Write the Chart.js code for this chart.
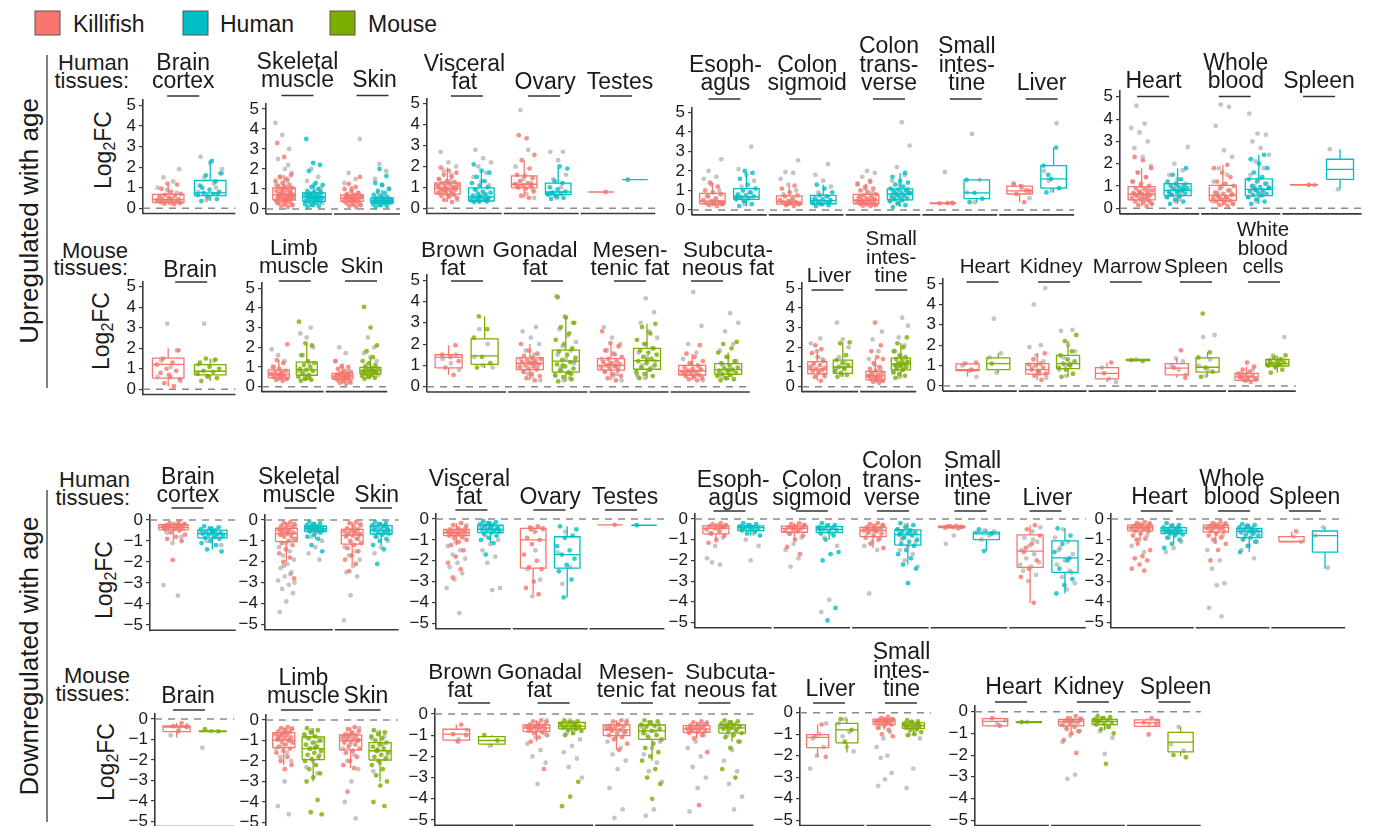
<!DOCTYPE html>
<html>
<head>
<meta charset="utf-8">
<script src="https://cdn.jsdelivr.net/npm/chart.js@4.4.1/dist/chart.umd.min.js"></script>
<style>
  html,body{margin:0;padding:0;background:#fff;}
  #wrap{position:relative;width:1377px;height:826px;overflow:hidden;background:#fff;}
  canvas{position:absolute;}
  svg text{font-family:"Liberation Sans",Arial,sans-serif;fill:#1a1a1a;}
</style>
</head>
<body>
<div id="wrap">
<svg id="ov" width="1377" height="826" style="position:absolute;left:0;top:0">
  <rect x="35" y="11" width="25" height="24" fill="#F8766D" stroke="#555" stroke-width="1"/>
  <text x="73" y="32" font-size="23">Killifish</text>
  <rect x="183" y="11" width="25" height="24" fill="#00BFC4" stroke="#555" stroke-width="1"/>
  <text x="220" y="32" font-size="23">Human</text>
  <rect x="330" y="11" width="25" height="24" fill="#7CAE00" stroke="#555" stroke-width="1"/>
  <text x="368" y="32" font-size="23">Mouse</text>

  <line x1="47" y1="55" x2="47" y2="388" stroke="#555" stroke-width="1.5"/>
  <line x1="47" y1="490" x2="47" y2="822" stroke="#555" stroke-width="1.5"/>
  <text transform="translate(29,221) rotate(-90)" text-anchor="middle" dominant-baseline="central" font-size="26">Upregulated with age</text>
  <text transform="translate(29,656) rotate(-90)" text-anchor="middle" dominant-baseline="central" font-size="26">Downregulated with age</text>

  <text transform="translate(103,150) rotate(-90)" text-anchor="middle" dominant-baseline="central" font-size="23">Log<tspan dy="6" font-size="16">2</tspan><tspan dy="-6">FC</tspan></text>
  <text transform="translate(101,331) rotate(-90)" text-anchor="middle" dominant-baseline="central" font-size="23">Log<tspan dy="6" font-size="16">2</tspan><tspan dy="-6">FC</tspan></text>
  <text transform="translate(104,580) rotate(-90)" text-anchor="middle" dominant-baseline="central" font-size="23">Log<tspan dy="6" font-size="16">2</tspan><tspan dy="-6">FC</tspan></text>
  <text transform="translate(106,762) rotate(-90)" text-anchor="middle" dominant-baseline="central" font-size="23">Log<tspan dy="6" font-size="16">2</tspan><tspan dy="-6">FC</tspan></text>

  <text x="129" y="70" font-size="22" text-anchor="end">Human</text>
  <text x="129" y="88" font-size="22" text-anchor="end">tissues:</text>
  <text x="128" y="258" font-size="22" text-anchor="end">Mouse</text>
  <text x="128" y="275" font-size="22" text-anchor="end">tissues:</text>
  <text x="130" y="487" font-size="22" text-anchor="end">Human</text>
  <text x="130" y="505" font-size="22" text-anchor="end">tissues:</text>
  <text x="130" y="683" font-size="22" text-anchor="end">Mouse</text>
  <text x="130" y="701" font-size="22" text-anchor="end">tissues:</text>
</svg>
</div>
<script>
// ---------------- DATA ----------------
const upTicks = [0, 1, 2, 3, 4, 5];
const downTicks = [-5, -4, -3, -2, -1, 0];

const humanTissues = [["Brain","cortex"],["Skeletal","muscle"],["Skin"],["Visceral","fat"],["Ovary"],["Testes"],
  ["Esoph-","agus"],["Colon","sigmoid"],["Colon","trans-","verse"],["Small","intes-","tine"],["Liver"],
  ["Heart"],["Whole","blood"],["Spleen"]];
const humanGroupSizes = [1, 2, 3, 5, 3];

const upMouseTissues = [["Brain"],["Limb","muscle"],["Skin"],["Brown","fat"],["Gonadal","fat"],["Mesen-","tenic fat"],
  ["Subcuta-","neous fat"],["Liver"],["Small","intes-","tine"],["Heart"],["Kidney"],["Marrow"],["Spleen"],["White","blood","cells"]];
const upMouseGroupSizes = [1, 2, 4, 2, 5];

const downMouseTissues = [["Brain"],["Limb","muscle"],["Skin"],["Brown","fat"],["Gonadal","fat"],["Mesen-","tenic fat"],
  ["Subcuta-","neous fat"],["Liver"],["Small","intes-","tine"],["Heart"],["Kidney"],["Spleen"]];
const downMouseGroupSizes = [1, 2, 4, 2, 3];

// box stats: [lower whisker, Q1, median, Q3, upper whisker]
const upHumanKilliBox = [[0.2,0.28,0.42,0.68,1.15],[0.1,0.45,0.72,1.05,1.7],[0.1,0.38,0.55,0.7,1.15],[0.3,0.68,0.95,1.22,1.95],
  [0.5,0.98,1.15,1.55,2.3],[0.78,0.78,0.78,0.78,0.78],[0.2,0.32,0.45,0.85,1.4],[0.2,0.3,0.42,0.72,1.25],[0.2,0.32,0.5,0.8,1.35],
  [0.33,0.33,0.35,0.37,0.37],[0.4,0.82,0.98,1.22,1.35],[0.1,0.38,0.63,0.97,1.8],[0.1,0.35,0.58,1.03,1.95],[1.04,1.04,1.05,1.06,1.06]];
const upHumanHumanBox = [[0.35,0.62,0.75,1.35,2.35],[0.1,0.38,0.6,0.8,1.3],[0.1,0.3,0.42,0.55,0.95],[0.3,0.35,0.55,0.98,1.8],
  [0.45,0.65,0.78,1.2,1.95],[1.37,1.37,1.37,1.37,1.37],[0.2,0.55,0.68,1.1,1.95],[0.2,0.32,0.48,0.75,1.3],[0.15,0.52,0.82,1.08,1.9],
  [0.4,0.58,0.88,1.55,1.55],[0.9,1.12,1.6,2.28,3.2],[0.2,0.57,0.8,1.1,1.8],[0.2,0.57,0.85,1.32,2.4],[0.85,1.3,1.75,2.2,2.65]];
const upHumanKilliPts = [
  "0.2 0.22 0.25 0.27 0.3 0.32 0.35 0.38 0.4 0.42 0.45 0.5 0.55 0.6 0.65 0.7 0.8 0.95 1.15 1.2",
  "0.1 0.15 0.2 0.25 0.3 0.35 0.4 0.42 0.45 0.5 0.52 0.55 0.6 0.62 0.65 0.7 0.72 0.75 0.8 0.85 0.9 0.95 1.0 1.05 1.1 1.15 1.2 1.3 1.4 1.5 1.6 1.7 2.6 3.3 0.68 0.78 0.58 0.48",
  "0.1 0.15 0.2 0.25 0.3 0.35 0.38 0.4 0.45 0.5 0.52 0.55 0.58 0.6 0.62 0.65 0.7 0.75 0.8 0.9 1.0 1.1 1.25 1.6 0.48 0.56",
  "0.3 0.4 0.5 0.55 0.6 0.65 0.7 0.75 0.8 0.85 0.9 0.92 0.95 1.0 1.05 1.1 1.15 1.2 1.25 1.3 1.4 1.5 1.6 1.7 1.8 1.95 0.98 0.88 1.08",
  "0.5 0.6 0.8 0.95 1.0 1.05 1.1 1.15 1.2 1.3 1.45 1.55 1.6 1.9 2.3 2.55 3.35 3.5 1.12",
  "0.78",
  "0.2 0.25 0.3 0.32 0.35 0.4 0.45 0.5 0.6 0.7 0.8 0.9 1.0 1.2 1.4 0.38",
  "0.2 0.25 0.3 0.35 0.4 0.42 0.45 0.5 0.6 0.7 0.75 0.9 1.1 1.25 0.32",
  "0.2 0.22 0.25 0.3 0.32 0.35 0.4 0.45 0.48 0.5 0.55 0.6 0.65 0.7 0.75 0.8 0.9 1.0 1.1 1.2 1.35 1.45 0.42 0.52",
  "0.35 0.34 0.36",
  "0.4 0.82 0.98 1.22 1.35 1.0",
  "0.1 0.15 0.2 0.25 0.3 0.35 0.4 0.45 0.5 0.55 0.6 0.63 0.65 0.7 0.75 0.8 0.85 0.9 1.0 1.1 1.2 1.4 1.6 1.8 2.15 2.3 0.52 0.72",
  "0.1 0.15 0.2 0.25 0.3 0.35 0.4 0.45 0.5 0.55 0.6 0.65 0.7 0.8 0.9 1.0 1.1 1.2 1.4 1.6 1.8 1.95 0.48 0.62",
  "1.05"];
const upHumanHumanPts = [
  "0.35 0.45 0.6 0.65 0.7 0.75 0.8 0.9 1.1 1.3 1.6 1.7 2.3 1.0 0.7",
  "0.1 0.15 0.2 0.25 0.3 0.35 0.38 0.4 0.45 0.5 0.52 0.55 0.58 0.6 0.62 0.65 0.7 0.72 0.75 0.8 0.85 0.9 1.0 1.1 1.2 1.3 1.9 2.2 2.3 3.5 0.5 0.6",
  "0.1 0.15 0.2 0.25 0.3 0.32 0.35 0.38 0.4 0.42 0.45 0.48 0.5 0.55 0.6 0.65 0.7 0.8 0.9 1.0 1.2 1.3 1.65 2.0 0.4 0.35",
  "0.3 0.32 0.35 0.38 0.4 0.45 0.5 0.55 0.6 0.65 0.7 0.75 0.8 0.9 1.0 1.1 1.2 1.3 1.5 1.7 1.8 2.1 0.42 0.52",
  "0.45 0.5 0.6 0.65 0.7 0.75 0.8 0.9 1.0 1.2 1.3 1.9 2.0 0.72",
  "1.37",
  "0.2 0.3 0.45 0.55 0.6 0.65 0.7 0.75 0.8 0.9 1.0 1.1 1.3 1.6 1.9 2.0 0.68",
  "0.2 0.25 0.3 0.35 0.4 0.45 0.5 0.55 0.6 0.7 0.75 0.9 1.1 1.3 0.42",
  "0.15 0.25 0.35 0.45 0.5 0.55 0.6 0.65 0.7 0.75 0.8 0.85 0.9 0.95 1.0 1.05 1.1 1.2 1.3 1.4 1.5 1.7 1.9 0.78 0.88",
  "0.4 0.58 0.88 1.55",
  "0.9 1.12 1.6 2.28 3.2 1.8",
  "0.2 0.3 0.4 0.5 0.55 0.6 0.65 0.7 0.75 0.8 0.85 0.9 0.95 1.0 1.05 1.1 1.2 1.3 1.5 1.8 0.78 0.68 0.88",
  "0.2 0.3 0.4 0.5 0.57 0.6 0.65 0.7 0.75 0.8 0.85 0.9 0.95 1.0 1.1 1.2 1.3 1.4 1.6 1.8 2.0 2.2 2.4 0.82 0.92",
  ""];
const upHumanKilliGray = [
  "0.3 0.45 0.6 0.75 0.9 1.0 1.3 1.5 1.9 0.5 0.35",
  "0.2 0.4 0.6 0.8 1.0 1.2 1.4 1.6 1.8 2.0 2.5 3.0 3.7 4.3 0.5 0.7 0.9 1.1 0.3 2.2",
  "0.2 0.4 0.6 0.8 1.0 1.3 1.5 1.8 3.5 0.5 0.7",
  "0.4 0.6 0.8 1.0 1.2 1.4 1.6 1.8 2.0 2.2 2.7 0.7 0.9 1.1 1.3",
  "0.5 0.7 1.0 1.2 1.4 2.0 2.8 4.7 0.9",
  "",
  "0.3 0.5 0.7 1.0 1.3 1.6 1.7 2.0 2.6 0.4",
  "0.3 0.5 0.8 1.0 1.3 1.6 1.9 1.95 2.55 0.4",
  "0.3 0.5 0.7 0.9 1.1 1.3 1.5 1.7 1.9 2.0 0.4 0.6",
  "0.35 1.95",
  "0.6 1.1 1.3",
  "0.2 0.4 0.6 0.8 1.0 1.2 1.4 1.6 1.9 2.3 2.7 3.0 3.4 3.6 3.8 4.6 0.3 0.5 0.7 0.9",
  "0.2 0.4 0.6 0.8 1.0 1.2 1.5 1.8 2.3 2.6 3.7 4.55 4.65 0.3 0.5 0.7",
  "1.05"];
const upHumanHumanGray = [
  "0.5 0.8 1.2 1.5 1.7 2.2 2.5 1.0 0.4 1.9",
  "0.2 0.4 0.6 0.8 1.0 1.2 1.4 1.6 2.0 0.3 0.5 0.7 0.9",
  "0.2 0.4 0.6 0.8 1.0 1.2 1.5 1.9 2.25 0.3 0.5",
  "0.3 0.5 0.7 0.9 1.1 1.3 1.5 1.7 2.0 2.2 2.4 2.8 0.4 0.6",
  "0.5 0.7 1.0 1.4 1.6 2.3 2.7 2.7 0.6",
  "",
  "0.3 0.6 0.9 1.2 1.5 1.8 2.1 3.25 0.5",
  "0.3 0.5 0.7 0.9 1.2 1.5 1.8 2.35 0.4",
  "0.3 0.5 0.7 0.9 1.1 1.3 1.5 1.8 2.2 3.3 4.5 0.6 1.0",
  "0.4 0.9 1.55 3.9",
  "1.0 2.0 4.45 1.5",
  "0.3 0.5 0.7 0.9 1.1 1.3 1.5 1.7 2.0 2.75 0.4 0.6 0.8 1.0",
  "0.3 0.5 0.7 0.9 1.1 1.3 1.5 1.8 2.1 2.4 2.7 3.0 3.3 3.35 4.25 0.6 1.0",
  "0.85 2.65"];

const upMouseKilliBox = [[0.15,0.55,1.22,1.52,2.0],[0.3,0.45,0.62,0.85,1.35],[0.15,0.38,0.55,0.68,1.05],[0.55,0.88,1.38,1.5,1.95],
  [0.3,0.8,1.1,1.35,2.0],[0.3,0.78,1.0,1.32,2.05],[0.3,0.55,0.75,1.0,1.55],[0.3,0.65,0.88,1.27,1.9],[0.2,0.35,0.55,0.78,1.4],
  [0.45,0.75,0.8,1.08,1.15],[0.3,0.58,0.8,1.1,1.6],[0.2,0.35,0.62,0.9,1.15],[0.4,0.55,0.88,1.1,1.35],[0.2,0.28,0.45,0.62,0.95]];
const upMouseMouseBox = [[0.4,0.7,0.88,1.2,1.5],[0.3,0.58,0.85,1.25,2.2],[0.4,0.65,0.8,0.98,1.5],[0.88,1.05,1.45,2.25,3.3],
  [0.25,0.68,1.2,1.72,3.25],[0.4,0.82,1.22,1.8,2.95],[0.3,0.58,0.8,1.08,1.6],[0.5,0.68,1.0,1.35,2.25],[0.45,0.85,1.15,1.45,2.2],
  [0.65,0.8,1.1,1.38,1.6],[0.45,0.85,1.1,1.5,2.2],[1.22,1.24,1.27,1.3,1.32],[0.45,0.68,0.92,1.38,1.65],[0.65,0.98,1.1,1.3,1.5]];
const upMouseKilliPts = [
  "0.15 0.3 0.5 0.6 0.8 0.9 1.0 1.2 1.3 1.5 1.9 0.7",
  "0.3 0.35 0.4 0.45 0.5 0.55 0.6 0.65 0.7 0.75 0.8 0.9 1.0 1.2 1.35 2.15 0.58",
  "0.15 0.2 0.25 0.3 0.35 0.4 0.42 0.45 0.5 0.52 0.55 0.58 0.6 0.65 0.7 0.75 0.8 0.9 1.0 1.05 1.3 0.48",
  "0.55 0.9 1.2 1.4 1.5 1.95",
  "0.3 0.4 0.5 0.6 0.7 0.8 0.85 0.9 0.95 1.0 1.05 1.1 1.15 1.2 1.25 1.3 1.35 1.45 1.55 1.7 2.0 1.08",
  "0.3 0.4 0.5 0.6 0.7 0.78 0.85 0.9 0.95 1.0 1.05 1.1 1.15 1.2 1.3 1.4 1.55 1.7 1.9 2.05 2.6 0.98",
  "0.3 0.35 0.4 0.45 0.5 0.55 0.6 0.65 0.7 0.75 0.8 0.85 0.9 1.0 1.1 1.2 1.4 1.55 1.95 0.72",
  "0.3 0.5 0.6 0.7 0.8 0.85 0.9 1.0 1.1 1.2 1.3 1.5 1.7 1.9 2.1 0.95",
  "0.2 0.25 0.3 0.35 0.4 0.45 0.5 0.55 0.6 0.65 0.7 0.8 0.9 1.0 1.2 1.4 1.5 1.8 2.1 3.25 0.52",
  "0.8 1.1 1.15",
  "0.3 0.5 0.6 0.7 0.8 0.9 1.0 1.05 1.1 1.3 1.6 0.75",
  "1.15 0.62",
  "1.75 0.9 0.4",
  "0.2 0.3 0.35 0.4 0.45 0.5 0.55 0.6 0.7 0.8 0.95 1.15 0.42"];
const upMouseMousePts = [
  "0.4 0.55 0.65 0.75 0.85 0.9 1.0 1.1 1.3 1.45 1.5",
  "0.3 0.35 0.4 0.5 0.6 0.7 0.8 0.85 0.9 1.0 1.1 1.2 1.3 1.6 2.1 2.2 3.3 0.45",
  "0.4 0.45 0.5 0.55 0.6 0.65 0.7 0.75 0.8 0.82 0.85 0.9 0.95 1.0 1.1 1.2 1.3 1.5 1.8 2.1 3.0 4.05 0.78",
  "0.9 1.1 1.4 2.3 2.7 3.3",
  "0.25 0.35 0.45 0.55 0.65 0.75 0.85 0.95 1.05 1.15 1.25 1.35 1.5 1.65 1.8 2.0 2.2 2.5 2.8 3.0 3.25 4.2 0.6 1.0",
  "0.4 0.5 0.6 0.7 0.8 0.9 1.0 1.1 1.2 1.3 1.4 1.5 1.6 1.7 1.8 2.0 2.2 2.5 2.8 2.95 1.25",
  "0.3 0.35 0.4 0.5 0.55 0.6 0.65 0.7 0.75 0.8 0.85 0.9 1.0 1.1 1.2 1.4 1.6 1.8 2.0 2.1 0.78",
  "0.5 0.6 0.7 0.8 0.9 1.0 1.1 1.2 1.35 1.6 2.2 2.25 0.95",
  "0.45 0.55 0.65 0.75 0.85 0.9 1.0 1.05 1.1 1.15 1.2 1.25 1.3 1.4 1.5 1.6 1.8 2.0 2.2 2.5 1.12",
  "1.1",
  "0.45 0.6 0.8 0.9 1.0 1.1 1.2 1.3 1.5 1.7 2.2 2.5 1.05",
  "1.27 1.22",
  "0.45 0.7 0.9 1.4 1.65 3.55",
  "0.65 0.8 0.95 1.0 1.05 1.1 1.15 1.2 1.25 1.3 1.4 1.5 1.08"];
const upMouseKilliGray = [
  "0.4 1.1 1.4 1.9 3.2 0.6",
  "0.4 0.7 1.0 1.3 1.6 1.9 0.5",
  "0.2 0.4 0.6 0.8 1.0 1.3 1.7 2.0 0.5",
  "0.8 1.1 1.3 1.5",
  "0.3 0.5 0.7 0.9 1.1 1.3 1.5 1.7 2.0 2.3 2.6 2.8 0.6 1.0 1.2",
  "0.3 0.5 0.7 0.9 1.1 1.3 1.5 1.7 2.0 2.3 2.8 0.6 1.0",
  "0.3 0.5 0.7 0.9 1.1 1.3 1.6 2.0 2.85 4.45 0.6",
  "0.5 0.8 1.1 1.4 1.8 2.2 2.45",
  "0.3 0.5 0.7 0.9 1.1 1.4 1.8 2.4 2.8 0.4",
  "0.45 0.75 1.0",
  "0.4 0.6 0.9 1.2 1.5 1.9 2.0 4.0 4.8 0.7",
  "0.2 0.35 0.9",
  "0.55 0.8 1.0 1.2 1.35",
  "0.3 0.45 0.6 0.8 0.25"];
const upMouseMouseGray = [
  "0.6 1.2 1.4 3.2",
  "0.4 0.8 1.2 1.6 2.0 2.5 2.7 3.0 0.6",
  "0.5 0.7 0.9 1.1 1.3 1.5 1.7 2.0 2.5 0.6 0.8",
  "1.0 1.4 2.0 2.7 0.9",
  "0.3 0.5 0.7 0.9 1.1 1.3 1.5 1.7 1.9 2.1 2.4 2.7 3.0 3.3 4.25 0.4 0.8 1.2",
  "0.4 0.6 0.8 1.0 1.2 1.4 1.6 1.8 2.0 2.3 2.6 3.0 3.5 4.15 0.5 0.9",
  "0.4 0.6 0.8 1.0 1.2 1.4 1.7 2.0 2.6 3.0 3.45 0.5",
  "0.6 0.9 1.2 1.5 2.0 2.4 3.25",
  "0.5 0.7 0.9 1.1 1.3 1.5 1.8 2.1 2.5 3.1 3.5 1.0",
  "0.65 1.4 1.6 3.3",
  "0.5 0.8 1.1 1.4 1.7 2.0 2.7 2.75 1.0",
  "1.3",
  "0.5 1.0 1.3 2.4 2.5 0.8",
  "0.9 1.1 1.3 1.5 2.4 1.0"];

const downHumanKilliBox = [[-1.0,-0.47,-0.35,-0.22,-0.1],[-2.0,-1.03,-0.65,-0.4,-0.1],[-2.1,-1.15,-0.72,-0.45,-0.1],[-1.25,-0.8,-0.65,-0.5,-0.2],
  [-3.6,-2.35,-1.0,-0.45,-0.35],[-0.28,-0.28,-0.28,-0.28,-0.28],[-1.15,-0.72,-0.45,-0.33,-0.2],[-1.05,-0.64,-0.45,-0.34,-0.2],
  [-1.4,-0.85,-0.55,-0.4,-0.2],[-0.45,-0.42,-0.38,-0.35,-0.33],[-4.05,-2.34,-1.55,-0.77,-0.3],[-0.95,-0.57,-0.42,-0.3,-0.15],
  [-1.2,-0.63,-0.42,-0.3,-0.15],[-1.15,-1.1,-1.08,-0.85,-0.6]];
const downHumanHumanBox = [[-1.4,-0.85,-0.65,-0.48,-0.3],[-0.9,-0.55,-0.42,-0.3,-0.1],[-1.2,-0.67,-0.5,-0.27,-0.1],[-1.15,-0.65,-0.5,-0.3,-0.1],
  [-3.75,-2.35,-1.7,-0.85,-0.35],[-0.3,-0.3,-0.3,-0.3,-0.3],[-0.8,-0.56,-0.42,-0.33,-0.2],[-1.0,-0.66,-0.5,-0.37,-0.2],
  [-2.2,-1.26,-0.75,-0.53,-0.2],[-1.55,-1.0,-0.72,-0.63,-0.5],[-3.6,-2.58,-1.88,-1.06,-0.45],[-1.2,-0.7,-0.57,-0.42,-0.2],
  [-1.6,-0.9,-0.6,-0.45,-0.25],[-2.4,-1.6,-0.8,-0.58,-0.4]];
const downHumanKilliPts = [
  "-0.1 -0.15 -0.2 -0.22 -0.25 -0.28 -0.3 -0.32 -0.35 -0.38 -0.4 -0.42 -0.45 -0.5 -0.6 -0.7 -0.8 -0.9 -1.0 -1.9 -0.33 -0.27",
  "-0.1 -0.15 -0.2 -0.25 -0.3 -0.35 -0.4 -0.45 -0.5 -0.55 -0.6 -0.65 -0.7 -0.75 -0.8 -0.9 -1.0 -1.1 -1.2 -1.4 -1.6 -1.8 -2.0 -2.8 -0.62 -0.52",
  "-0.1 -0.15 -0.2 -0.3 -0.4 -0.45 -0.5 -0.55 -0.6 -0.65 -0.7 -0.75 -0.8 -0.9 -1.0 -1.1 -1.2 -1.35 -1.5 -1.7 -1.9 -2.1 -2.45 -0.68",
  "-0.2 -0.3 -0.4 -0.45 -0.5 -0.55 -0.6 -0.62 -0.65 -0.68 -0.7 -0.75 -0.8 -0.85 -0.9 -1.0 -1.1 -1.25 -1.5 -1.8 -2.1 -2.4 -2.8 -0.58 -0.72",
  "-0.35 -0.4 -0.45 -0.6 -0.9 -1.0 -1.2 -1.7 -2.0 -2.3 -2.4 -3.0 -3.3 -3.6 -0.5",
  "-0.28",
  "-0.2 -0.25 -0.3 -0.33 -0.36 -0.4 -0.45 -0.5 -0.6 -0.7 -0.8 -1.0 -1.15 -0.38",
  "-0.2 -0.25 -0.3 -0.35 -0.4 -0.45 -0.5 -0.55 -0.6 -0.7 -0.8 -1.0 -1.35 -1.7 -0.42",
  "-0.2 -0.25 -0.3 -0.35 -0.4 -0.45 -0.5 -0.55 -0.6 -0.65 -0.7 -0.8 -0.9 -1.0 -1.2 -1.4 -0.52 -0.48",
  "-0.33 -0.35 -0.38 -0.4 -0.42 -0.45 -0.36",
  "-0.3 -0.5 -0.8 -1.2 -1.6 -2.0 -2.4 -2.8 -4.05 -1.4",
  "-0.15 -0.2 -0.25 -0.3 -0.35 -0.4 -0.42 -0.45 -0.5 -0.55 -0.6 -0.7 -0.8 -0.95 -1.2 -1.5 -1.8 -1.9 -2.0 -2.2 -2.4 -2.5 -1.0 -0.38",
  "-0.15 -0.2 -0.25 -0.3 -0.35 -0.4 -0.42 -0.45 -0.5 -0.55 -0.6 -0.7 -0.8 -0.9 -1.0 -1.2 -1.5 -2.0 -0.38",
  "-0.6"];
const downHumanHumanPts = [
  "-0.3 -0.35 -0.4 -0.45 -0.5 -0.55 -0.6 -0.62 -0.65 -0.68 -0.7 -0.75 -0.8 -0.85 -0.9 -1.0 -1.1 -1.2 -1.4 -1.5 -0.58",
  "-0.1 -0.15 -0.2 -0.25 -0.3 -0.32 -0.35 -0.38 -0.4 -0.42 -0.45 -0.48 -0.5 -0.55 -0.6 -0.7 -0.8 -0.9 -1.2 -1.5 -0.44",
  "-0.1 -0.15 -0.2 -0.25 -0.3 -0.35 -0.4 -0.45 -0.5 -0.55 -0.6 -0.65 -0.7 -0.8 -0.9 -1.0 -1.2 -1.4 -2.1 -0.48",
  "-0.1 -0.15 -0.2 -0.25 -0.3 -0.35 -0.4 -0.45 -0.5 -0.52 -0.55 -0.6 -0.65 -0.7 -0.8 -0.9 -1.0 -1.15 -1.7 -0.48 -0.42",
  "-0.35 -0.8 -0.9 -1.3 -1.5 -1.7 -1.9 -2.2 -2.5 -2.9 -3.75 -0.5",
  "-0.3",
  "-0.2 -0.25 -0.3 -0.35 -0.4 -0.42 -0.45 -0.5 -0.55 -0.6 -0.7 -0.8 -0.38",
  "-0.2 -0.3 -0.35 -0.4 -0.45 -0.5 -0.55 -0.6 -0.7 -0.8 -1.0 -1.6 -1.7 -2.0 -4.3 -4.9 -0.48",
  "-0.2 -0.3 -0.4 -0.5 -0.55 -0.6 -0.65 -0.7 -0.75 -0.8 -0.9 -1.0 -1.1 -1.2 -1.3 -1.5 -1.7 -1.9 -2.2 -2.4 -3.1 -0.72",
  "-0.5 -0.7 -1.55",
  "-0.45 -0.8 -1.2 -1.6 -2.0 -2.4 -2.9 -3.2 -3.6 -1.9",
  "-0.2 -0.3 -0.35 -0.4 -0.45 -0.5 -0.55 -0.58 -0.6 -0.65 -0.7 -0.75 -0.8 -0.9 -1.0 -1.2 -1.4 -0.52 -0.62",
  "-0.25 -0.3 -0.35 -0.4 -0.45 -0.5 -0.55 -0.6 -0.65 -0.7 -0.75 -0.8 -0.9 -1.0 -1.1 -1.3 -1.6 -0.58",
  ""];
const downHumanKilliGray = [
  "-0.2 -0.4 -0.6 -0.8 -1.1 -3.1 -3.6 -0.3",
  "-0.3 -0.5 -0.7 -0.9 -1.1 -1.3 -1.5 -1.7 -1.9 -2.1 -2.3 -2.5 -2.7 -2.9 -3.1 -3.3 -3.5 -3.9 -4.4 -2.6 -2.2 -3.0",
  "-0.3 -0.5 -0.7 -0.9 -1.1 -1.3 -1.5 -1.7 -1.9 -2.2 -2.5 -2.7 -3.6 -4.8 -0.6",
  "-0.3 -0.5 -0.7 -0.9 -1.1 -1.3 -1.5 -1.7 -1.9 -2.1 -2.3 -2.6 -2.9 -3.3 -4.5 -0.6",
  "-0.5 -1.5 -2.4 -2.9 -3.7",
  "",
  "-0.3 -0.5 -0.7 -0.9 -1.3 -1.9 -2.2 -2.1 -0.4",
  "-0.3 -0.5 -0.7 -0.9 -1.2 -1.5 -1.9 -2.3 -0.4",
  "-0.3 -0.5 -0.7 -0.9 -1.1 -1.3 -1.5 -3.6 -0.4 -0.6",
  "-0.4 -0.8 -1.2",
  "-0.4 -0.6 -0.9 -1.1 -1.3 -1.5 -1.7 -1.9 -2.1 -2.3 -2.5 -2.7 -3.0 -2.2 -1.0",
  "-0.2 -0.4 -0.6 -0.8 -1.0 -1.3 -1.6 -0.3 -0.5",
  "-0.2 -0.4 -0.6 -0.8 -1.1 -1.5 -2.0 -2.4 -3.1 -3.2 -4.3 -4.7 -0.3",
  "-1.1 -0.85"];
const downHumanHumanGray = [
  "-0.4 -0.6 -0.8 -1.0 -1.2 -0.5",
  "-0.2 -0.4 -0.6 -0.8 -1.0 -1.3 -1.6 -1.9 -0.3",
  "-0.2 -0.4 -0.6 -0.8 -1.0 -1.3 -1.6 -0.3",
  "-0.2 -0.4 -0.6 -0.8 -1.0 -1.2 -1.5 -1.8 -2.1 -3.3 -3.4 -0.3",
  "-0.6 -1.6 -2.3 -3.1",
  "",
  "-0.3 -0.5 -0.7 -1.0 -1.3 -2.0 -0.4",
  "-0.3 -0.5 -0.7 -0.9 -1.3 -3.9 -4.5 -0.4",
  "-0.3 -0.5 -0.7 -0.9 -1.1 -1.3 -1.5 -1.7 -2.0 -2.3 -0.6 -1.0",
  "-0.55 -0.65 -0.8 -1.0 -0.6",
  "-0.5 -0.9 -1.1 -1.4 -1.7 -2.0 -2.2 -2.5 -2.8 -3.1 -3.4 -1.5 -2.6",
  "-0.3 -0.5 -0.7 -0.9 -1.1 -1.4 -1.6 -0.4 -0.6",
  "-0.3 -0.5 -0.7 -0.9 -1.1 -1.3 -1.5 -1.9 -0.4 -0.6",
  "-0.4 -0.8 -2.35"];

const downMouseKilliBox = [[-0.9,-0.62,-0.4,-0.34,-0.2],[-2.2,-1.35,-0.98,-0.62,-0.35],[-2.35,-1.46,-1.0,-0.73,-0.35],
  [-1.35,-1.23,-0.95,-0.72,-0.5],[-1.3,-0.83,-0.65,-0.52,-0.3],[-1.7,-1.02,-0.75,-0.52,-0.3],[-1.15,-0.87,-0.7,-0.55,-0.35],
  [-2.05,-1.62,-1.15,-1.02,-0.55],[-0.8,-0.55,-0.4,-0.3,-0.2],[-0.7,-0.65,-0.45,-0.32,-0.25],[-1.0,-0.65,-0.45,-0.35,-0.2],
  [-0.7,-0.68,-0.5,-0.38,-0.3]];
const downMouseMouseBox = [[-0.65,-0.62,-0.6,-0.58,-0.5],[-3.0,-1.93,-1.4,-0.83,-0.4],[-3.0,-1.95,-1.5,-1.1,-0.5],
  [-1.55,-1.42,-1.25,-1.07,-1.0],[-1.0,-0.7,-0.58,-0.4,-0.3],[-2.2,-1.2,-0.8,-0.52,-0.3],[-1.3,-0.9,-0.65,-0.52,-0.3],
  [-1.85,-1.4,-0.8,-0.5,-0.28],[-1.05,-0.73,-0.6,-0.47,-0.35],[-0.52,-0.5,-0.48,-0.46,-0.44],[-0.85,-0.6,-0.45,-0.35,-0.2],
  [-2.05,-1.85,-1.4,-0.95,-0.7]];
const downMouseKilliPts = [
  "-0.2 -0.35 -0.4 -0.6",
  "-0.35 -0.4 -0.45 -0.5 -0.55 -0.6 -0.65 -0.7 -0.75 -0.8 -0.85 -0.9 -0.95 -1.0 -1.05 -1.1 -1.2 -1.3 -1.4 -1.5 -1.6 -1.8 -2.0 -2.2 -2.4 -0.92",
  "-0.35 -0.45 -0.55 -0.65 -0.7 -0.75 -0.8 -0.85 -0.9 -0.95 -1.0 -1.05 -1.1 -1.2 -1.3 -1.4 -1.5 -1.6 -1.8 -2.0 -2.2 -2.35 -3.5 -0.98",
  "-0.5 -0.95 -1.0 -1.3",
  "-0.3 -0.35 -0.4 -0.45 -0.5 -0.55 -0.6 -0.62 -0.65 -0.68 -0.7 -0.75 -0.8 -0.85 -0.9 -1.0 -1.1 -1.3 -2.6 -0.58",
  "-0.3 -0.35 -0.4 -0.5 -0.55 -0.6 -0.65 -0.7 -0.75 -0.8 -0.85 -0.9 -1.0 -1.1 -1.2 -1.4 -1.7 -0.72",
  "-0.35 -0.4 -0.45 -0.5 -0.55 -0.6 -0.65 -0.7 -0.72 -0.75 -0.8 -0.85 -0.9 -1.0 -1.15 -1.8 -4.3 -0.68",
  "-0.55 -1.1 -2.05",
  "-0.2 -0.25 -0.3 -0.32 -0.35 -0.38 -0.4 -0.42 -0.45 -0.5 -0.55 -0.6 -0.7 -0.8 -1.0 -1.1 -0.36",
  "-0.65 -0.3",
  "-0.2 -0.3 -0.35 -0.4 -0.45 -0.5 -0.55 -0.6 -0.7 -0.8 -0.9 -1.0 -1.3 -1.9 -0.42",
  "-0.3 -0.5 -0.6 -1.05"];
const downMouseMousePts = [
  "-0.5 -0.6",
  "-0.4 -0.5 -0.6 -0.7 -0.8 -0.9 -1.0 -1.1 -1.2 -1.3 -1.4 -1.5 -1.6 -1.7 -1.8 -1.9 -2.0 -2.2 -2.4 -2.6 -2.8 -3.0 -3.9 -4.5 -4.6 -1.35",
  "-0.5 -0.6 -0.7 -0.8 -0.9 -1.0 -1.1 -1.2 -1.3 -1.4 -1.5 -1.6 -1.7 -1.8 -1.9 -2.0 -2.2 -2.4 -2.7 -3.0 -3.2 -4.0 -4.2 -1.45",
  "-1.0 -1.25",
  "-0.3 -0.35 -0.4 -0.45 -0.5 -0.55 -0.58 -0.6 -0.65 -0.7 -0.75 -0.8 -0.9 -1.0 -3.2 -3.9 -4.35 -0.52",
  "-0.3 -0.35 -0.4 -0.5 -0.55 -0.6 -0.7 -0.8 -0.9 -1.0 -1.1 -1.2 -1.4 -1.6 -1.8 -2.0 -2.2 -2.6 -3.0 -3.3 -4.0 -0.78",
  "-0.3 -0.35 -0.4 -0.45 -0.5 -0.55 -0.6 -0.65 -0.7 -0.75 -0.8 -0.9 -1.0 -1.1 -1.3 -1.6 -2.6 -3.0 -0.62",
  "-0.3 -0.8 -1.35",
  "-0.35 -0.4 -0.45 -0.5 -0.55 -0.6 -0.62 -0.65 -0.7 -0.75 -0.8 -0.9 -1.0 -1.05 -0.58",
  "-0.48",
  "-0.2 -0.25 -0.3 -0.35 -0.4 -0.45 -0.5 -0.55 -0.6 -0.7 -0.8 -1.0 -2.4 -0.42",
  "-2.0 -2.1"];
const downMouseKilliGray = [
  "-0.3 -0.5 -0.8",
  "-0.4 -0.6 -0.8 -1.0 -1.2 -1.4 -1.6 -1.8 -2.0 -3.0 -4.2 -4.6 -0.7",
  "-0.4 -0.6 -0.8 -1.0 -1.2 -1.4 -1.7 -2.0 -2.4 -3.0 -4.0 -4.8 -0.7",
  "-0.75 -1.2",
  "-0.3 -0.5 -0.7 -0.9 -1.1 -1.4 -1.7 -2.0 -2.3 -3.3 -0.6",
  "-0.3 -0.5 -0.7 -0.9 -1.1 -1.3 -1.6 -1.9 -2.2 -2.6 -3.5 -4.5 -4.9 -0.6",
  "-0.4 -0.6 -0.8 -1.0 -1.3 -1.6 -2.0 -2.5 -3.0 -3.5 -4.6 -0.5",
  "-0.5 -1.0 -1.2 -1.6 -2.0 -2.6",
  "-0.3 -0.5 -0.7 -0.9 -1.2 -1.6 -2.0 -2.1 -2.8 -3.1 -3.4 -0.4",
  "-0.4 -0.55",
  "-0.3 -0.5 -0.7 -0.9 -1.1 -1.4 -2.9 -3.1 -0.4",
  "-0.4 -0.55"];
const downMouseMouseGray = [
  "-0.6 -1.4",
  "-0.5 -0.8 -1.1 -1.4 -1.7 -2.0 -2.3 -2.6 -0.6 -1.0",
  "-0.6 -0.9 -1.2 -1.5 -1.8 -2.1 -2.5 -0.8",
  "-1.5",
  "-0.3 -0.5 -0.7 -0.9 -1.2 -1.5 -1.8 -2.1 -2.5 -3.0 -0.4",
  "-0.4 -0.6 -0.8 -1.0 -1.3 -1.6 -1.9 -2.3 -2.7 -3.2 -4.5 -4.8 -0.5",
  "-0.4 -0.6 -0.8 -1.0 -1.3 -1.7 -2.2 -2.7 -3.3 -3.9 -4.5 -0.5",
  "-0.3 -0.5 -0.9 -1.1 -1.8 -1.6",
  "-0.4 -0.6 -0.8 -1.0 -1.2 -2.6 -3.5 -0.5",
  "-0.47",
  "-0.3 -0.5 -0.7 -0.9 -1.2 -1.95 -0.4",
  "-0.7 -1.5 -1.8"];

// ---------------- LAYOUT (positions only) ----------------
const layoutUpHuman = [
  {left:143, off:0, y0:208.3, uy:20.6, ux:42, lab:88, ul:96, fs:23},
  {left:266, off:0, y0:209, uy:20, ux:30, lab:87, ul:95.5, fs:23},
  {left:427, off:0, y0:208.3, uy:20.9, ux:34, lab:89, ul:96, fs:23},
  {left:692, off:0, y0:210, uy:19.5, ux:34, lab:90, ul:99, fs:23},
  {left:1120, off:0, y0:208.3, uy:22.3, ux:36, lab:88, ul:96.5, fs:23}];
const layoutUpMouse = [
  {left:143, off:0, y0:389.3, uy:20.5, ux:42, lab:277, ul:282, fs:23},
  {left:262, off:0, y0:386.7, uy:19.7, ux:28, lab:273, ul:281, fs:22},
  {left:427, off:0, y0:386.7, uy:21.3, ux:36, lab:275, ul:281, fs:22.5},
  {left:802, off:0, y0:386.7, uy:19.7, ux:25.5, lab:282, ul:290, fs:20.5},
  {left:943, off:6, y0:386, uy:20.4, ux:30.8, lab:273, ul:282, fs:20.5}];
const layoutDownHuman = [
  {left:150, off:0, y0:520, uy:21, ux:39, lab:502, ul:508, fs:23},
  {left:265, off:4, y0:520, uy:20.9, ux:29, lab:502, ul:508, fs:23},
  {left:436, off:0, y0:519, uy:20.9, ux:34, lab:504, ul:510, fs:23},
  {left:695, off:0, y0:519, uy:20.7, ux:34.8, lab:505, ul:511, fs:23},
  {left:1111, off:9, y0:519, uy:20.7, ux:33.5, lab:504, ul:511, fs:23}];
const layoutDownMouse = [
  {left:155, off:0, y0:719, uy:20.5, ux:36, lab:703, ul:710, fs:23},
  {left:266, off:0, y0:720, uy:20.5, ux:29.5, lab:703, ul:710, fs:23},
  {left:435, off:0, y0:714, uy:21.2, ux:35.5, lab:697, ul:703, fs:22.5},
  {left:800, off:0, y0:712.7, uy:21.5, ux:29.3, lab:696, ul:703, fs:23},
  {left:975, off:0, y0:711.7, uy:21.7, ux:33.6, lab:694, ul:702, fs:23}];
// horizontal nudges (px) of each tissue title and of its short underline
const labelDxUpHuman = [-6,-1.5,7.5,0,4,2,-4,1,6,7,5,-6,-5,-3];
const lineDxUpHuman = [-6,-1.5,5.5,2.5,3,-2,-5,-1,6,6,5,-6.5,-6,-3];
const labelDxUpMouse = [1,1,5.6,-13.6,-12.8,1,17.8,-1,3,2,-1.6,4.6,3.8,1];
const lineDxUpMouse = [2,2,4.6,0.4,-0.8,1,-3.2,-2.5,3,-0.4,1.4,3.6,3.8,2];
const labelDxDownHuman = [-5,-2,10,-4,0,-2,0,0,1.6,3.5,0,2.6,-0.6,-3.8];
const lineDxDownHuman = [-5.4,-0.4,9.3,-2,-0.7,-6,-3.8,0,2.6,1.5,-2,0,1.4,-3.3];
const labelDxDownMouse = [-6.6,5,0.6,-14,-14.6,2,16,-1.7,2.8,1.5,0.6,11.7];
const lineDxDownMouse = [-5.6,-1.5,-0.9,0,-0.6,2.7,0,-3.2,2.3,-1,5,10.7];

// ---------------- DRAWING ----------------
const COL = {killifish:'#F8766D', human:'#00BFC4', mouse:'#7CAE00'};
const PT = {killifish:'rgba(248,118,109,0.8)', human:'rgba(0,191,196,0.8)', mouse:'rgba(124,174,0,0.8)'};
const GRAY = 'rgba(140,140,140,0.5)';
const FONT = '"Liberation Sans", Arial, sans-serif';
const FW = 2.2, C1 = 0.6, C2 = 1.6, HW = 0.375, GAPPX = 2;
const parse = s => s.trim() ? s.trim().split(/\s+/).map(Number) : [];
const jit = (j, seed) => ((((j + 1) * 0.6180339887 + seed) % 1) - 0.5) * 0.6;

function boxPath(c, b) {
  const [lo, q1, md, q3, hi] = b;
  return [{x:c-HW,y:q1},{x:c+HW,y:q1},{x:c+HW,y:q3},{x:c-HW,y:q3},{x:c-HW,y:q1},{x:c,y:null},
          {x:c-HW,y:md},{x:c+HW,y:md},{x:c,y:null},
          {x:c,y:q3},{x:c,y:hi},{x:c,y:null},{x:c,y:q1},{x:c,y:lo},{x:c,y:null}];
}

const wrap = document.getElementById('wrap');
let chartIdx = 0;

function makeGroup(L, facets, other, up) {
  const n = facets.length;
  const g = GAPPX / L.ux;
  const xmin = -L.off / L.ux;
  const xmax = n * FW + (n - 1) * g;
  const totalPx = (xmax - xmin) * L.ux;
  const ymin = up ? -0.25 : -5.25, ymax = up ? 5.25 : 0.25;
  const yTop = L.y0 - ymax * L.uy;
  const plotH = (ymax - ymin) * L.uy;
  const cTop = Math.round(yTop - 72);
  const padT = yTop - cTop;
  const H = Math.ceil(padT + plotH + 16);
  const padB = H - padT - plotH;
  const cLeft = Math.round(L.left - 40);
  const yw = L.left - cLeft;
  const W = Math.ceil(yw + totalPx + 30);
  const padR = W - yw - totalPx;

  const cv = document.createElement('canvas');
  cv.width = W; cv.height = H;
  cv.style.left = cLeft + 'px'; cv.style.top = cTop + 'px';
  cv.style.width = W + 'px'; cv.style.height = H + 'px';
  wrap.appendChild(cv);

  const base = [], kBoxes = [], oBoxes = [], kPts = [], oPts = [], gray = [], items = [];
  facets.forEach((f, i) => {
    const s = i * (FW + g);
    base.push({x:(i === 0 ? xmin : s), y:ymin}, {x:s + FW, y:ymin}, {x:s + FW, y:null});
    const c1 = s + C1, c2 = s + C2;
    kBoxes.push(...boxPath(c1, f.kBox));
    oBoxes.push(...boxPath(c2, f.oBox));
    parse(f.kPts).forEach((v, j) => kPts.push({x:c1 + jit(j, 0.11), y:v}));
    parse(f.oPts).forEach((v, j) => oPts.push({x:c2 + jit(j, 0.53), y:v}));
    parse(f.kGray).forEach((v, j) => gray.push({x:c1 + jit(j, 0.37), y:v}));
    parse(f.oGray).forEach((v, j) => gray.push({x:c2 + jit(j, 0.79), y:v}));
    items.push({center: s + FW / 2, lines: f.label, dx: f.dx, udx: f.udx});
  });
  const ticks = up ? upTicks : downTicks;
  const lineDs = (data, color, width, order, extra) => Object.assign({type:'line', data, borderColor:color,
    borderWidth:width, pointRadius:0, fill:false, tension:0, spanGaps:false, clip:false, order}, extra || {});
  const ptDs = (data, color, order) => ({type:'scatter', data, backgroundColor:color, borderWidth:0,
    pointRadius:2.4, pointHoverRadius:0, order});

  const labPlugin = {
    id: 'facetLabels' + (chartIdx++),
    afterDraw(chart) {
      const ctx = chart.ctx, xs = chart.scales.x;
      ctx.save();
      ctx.font = L.fs + 'px ' + FONT;
      ctx.fillStyle = '#1a1a1a';
      ctx.textAlign = 'center';
      ctx.textBaseline = 'alphabetic';
      items.forEach(it => {
        const cx = xs.getPixelForValue(it.center);
        const nl = it.lines.length;
        it.lines.forEach((ln, k) => ctx.fillText(ln, cx + it.dx, L.lab - cTop - (nl - 1 - k) * 18.5));
        ctx.beginPath();
        ctx.moveTo(cx + it.udx - 16, L.ul - cTop);
        ctx.lineTo(cx + it.udx + 16, L.ul - cTop);
        ctx.strokeStyle = '#333'; ctx.lineWidth = 1.5; ctx.stroke();
      });
      ctx.restore();
    }
  };

  new Chart(cv, {
    type: 'scatter',
    data: { datasets: [
      lineDs(base, '#3a3a3a', 1.6, 6),
      lineDs([{x:xmin, y:0}, {x:xmax, y:0}], '#8a8a8a', 1.5, 5, {borderDash:[7, 6]}),
      ptDs(gray, GRAY, 4),
      lineDs(kBoxes, COL.killifish, 1.3, 3),
      lineDs(oBoxes, COL[other], 1.3, 3),
      ptDs(kPts, PT.killifish, 1),
      ptDs(oPts, PT[other], 1)
    ]},
    options: {
      responsive: false, animation: false, devicePixelRatio: 1, events: [],
      layout: { padding: { top: padT, bottom: padB, left: 0, right: padR } },
      plugins: { legend: {display:false}, tooltip: {enabled:false} },
      scales: {
        x: { type:'linear', min:xmin, max:xmax, display:false },
        y: { type:'linear', min:ymin, max:ymax,
             afterFit: sc => { sc.width = yw; },
             afterBuildTicks: sc => { sc.ticks = ticks.map(v => ({value:v})); },
             ticks: { autoSkip:false, font:{family:FONT, size:17}, color:'#1a1a1a', padding:3,
                      callback: v => v < 0 ? '\u2212' + Math.abs(v) : String(v) },
             grid: { display:true, drawOnChartArea:false, drawTicks:true, tickLength:4, color:'#3a3a3a', lineWidth:1.2 },
             border: { display:true, color:'#3a3a3a', width:1.6 } }
      }
    },
    plugins: [labPlugin]
  });
}

function buildRow(tissues, sizes, layout, kBox, oBox, kPts, oPts, kGray, oGray, other, up, dxs, udxs) {
  let idx = 0;
  sizes.forEach((sz, gi) => {
    const facets = [];
    for (let k = 0; k < sz; k++, idx++) {
      facets.push({label:tissues[idx], kBox:kBox[idx], oBox:oBox[idx], kPts:kPts[idx], oPts:oPts[idx],
                   kGray:kGray[idx], oGray:oGray[idx], dx:dxs[idx], udx:udxs[idx]});
    }
    makeGroup(layout[gi], facets, other, up);
  });
}

buildRow(humanTissues, humanGroupSizes, layoutUpHuman, upHumanKilliBox, upHumanHumanBox, upHumanKilliPts, upHumanHumanPts,
         upHumanKilliGray, upHumanHumanGray, 'human', true, labelDxUpHuman, lineDxUpHuman);
buildRow(upMouseTissues, upMouseGroupSizes, layoutUpMouse, upMouseKilliBox, upMouseMouseBox, upMouseKilliPts, upMouseMousePts,
         upMouseKilliGray, upMouseMouseGray, 'mouse', true, labelDxUpMouse, lineDxUpMouse);
buildRow(humanTissues, humanGroupSizes, layoutDownHuman, downHumanKilliBox, downHumanHumanBox, downHumanKilliPts, downHumanHumanPts,
         downHumanKilliGray, downHumanHumanGray, 'human', false, labelDxDownHuman, lineDxDownHuman);
buildRow(downMouseTissues, downMouseGroupSizes, layoutDownMouse, downMouseKilliBox, downMouseMouseBox, downMouseKilliPts, downMouseMousePts,
         downMouseKilliGray, downMouseMouseGray, 'mouse', false, labelDxDownMouse, lineDxDownMouse);
</script>
</body>
</html>
